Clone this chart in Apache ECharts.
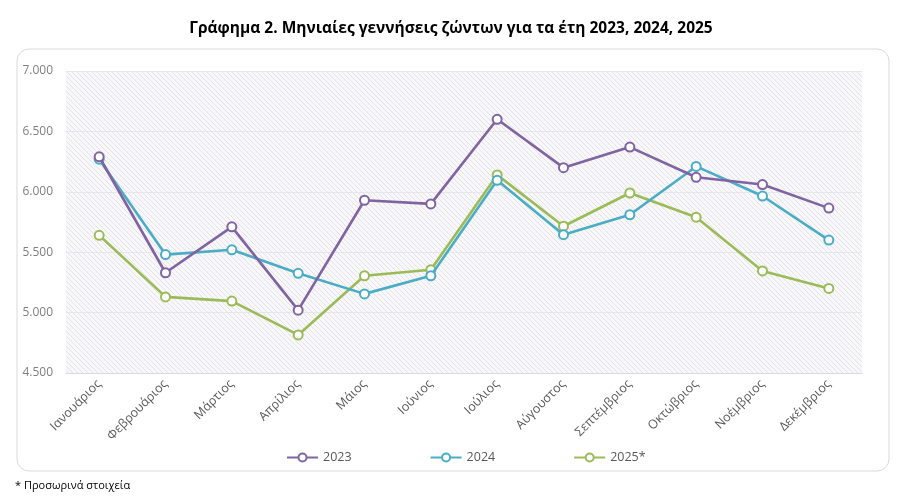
<!DOCTYPE html>
<html>
<head>
<meta charset="utf-8">
<script src="https://cdn.jsdelivr.net/npm/echarts@6/dist/echarts.min.js"></script>
<style>
  html, body { margin: 0; padding: 0; background: #fff; }
  #chart { width: 902px; height: 502px; }
</style>
</head>
<body>
<div id="chart"></div>
<script>
  var months = ["Ιανουάριος", "Φεβρουάριος", "Μάρτιος", "Απρίλιος", "Μάιος", "Ιούνιος",
    "Ιούλιος", "Αύγουστος", "Σεπτέμβριος", "Οκτώβριος", "Νοέμβριος", "Δεκέμβριος"];
  var births2023 = [6290, 5330, 5710, 5020, 5930, 5900, 6600, 6200, 6370, 6120, 6060, 5865];
  var births2024 = [6270, 5480, 5520, 5325, 5155, 5305, 6095, 5645, 5810, 6210, 5965, 5600];
  var births2025 = [5640, 5130, 5095, 4815, 5305, 5355, 6140, 5715, 5990, 5790, 5345, 5200];
  var seriesNames = ["2023", "2024", "2025*"];
  var yTicks = [4500, 5000, 5500, 6000, 6500, 7000];

  // hatch pattern for plot background
  function makeHatch() {
    var c = document.createElement("canvas");
    c.width = 5;
    c.height = 5;
    var ctx = c.getContext("2d");
    ctx.fillStyle = "#f8f7f9";
    ctx.fillRect(0, 0, 5, 5);
    ctx.strokeStyle = "#e4e1e7";
    ctx.lineWidth = 1;
    ctx.beginPath();
    ctx.moveTo(0, 0);
    ctx.lineTo(5, 5);
    ctx.moveTo(-2.5, 2.5);
    ctx.lineTo(2.5, 7.5);
    ctx.moveTo(2.5, -2.5);
    ctx.lineTo(7.5, 2.5);
    ctx.stroke();
    return { image: c, repeat: "repeat" };
  }

  function fmt(v) {
    return String(v).replace(/\B(?=(\d{3})+(?!\d))/g, ".");
  }

  var colors = ["#8064a2", "#4bacc6", "#9bbb59"];
  var allData = [births2023, births2024, births2025];

  var chart = echarts.init(document.getElementById("chart"));

  var series = allData.map(function(d, i) {
    return {
      name: seriesNames[i],
      type: "line",
      data: d,
      symbol: "emptyCircle",
      symbolSize: 9,
      lineStyle: { width: 2.6, color: colors[i] },
      itemStyle: { color: colors[i], borderWidth: 2.2 },
      z: 3 - i
    };
  });

  chart.setOption({
    animation: false,
    color: colors,
    title: {
      text: "Γράφημα 2. Μηνιαίες γεννήσεις ζώντων για τα έτη 2023, 2024, 2025",
      left: "center",
      top: 16,
      textStyle: { fontFamily: "Open Sans", fontWeight: "bold", fontSize: 15.5, color: "#000" }
    },
    graphic: [
      {
        type: "rect",
        shape: { x: 17, y: 49, width: 872, height: 422, r: 12 },
        style: { fill: "none", stroke: "#d9d9d9", lineWidth: 1 },
        silent: true
      },
      {
        type: "text",
        left: 15,
        top: 480,
        style: { text: "* Προσωρινά στοιχεία", font: "11px 'Open Sans'", fill: "#000" }
      }
    ],
    legend: {
      data: seriesNames,
      bottom: 33,
      left: 281,
      itemGap: 78,
      itemWidth: 31,
      itemHeight: 10,
      textStyle: { fontFamily: "Open Sans", fontSize: 12.5, color: "#595959" }
    },
    grid: {
      left: 66,
      right: 40,
      top: 71,
      bottom: 129,
      show: true,
      borderWidth: 0,
      backgroundColor: makeHatch()
    },
    xAxis: {
      type: "category",
      data: months,
      boundaryGap: true,
      axisLine: { lineStyle: { color: "#d9d9d9" } },
      axisTick: { show: false },
      axisLabel: {
        rotate: 45,
        interval: 0,
        margin: 9,
        fontFamily: "Open Sans",
        fontSize: 12.5,
        color: "#595959"
      }
    },
    yAxis: {
      type: "value",
      min: yTicks[0],
      max: yTicks[yTicks.length - 1],
      interval: 500,
      axisLine: { show: false },
      axisTick: { show: false },
      splitLine: { lineStyle: { color: "#e8e6ea", width: 1 } },
      axisLabel: {
        fontFamily: "Open Sans",
        fontSize: 12,
        color: "#7f7f7f",
        margin: 13,
        formatter: function(v) { return fmt(v); }
      }
    },
    series: series
  });
</script>
</body>
</html>
